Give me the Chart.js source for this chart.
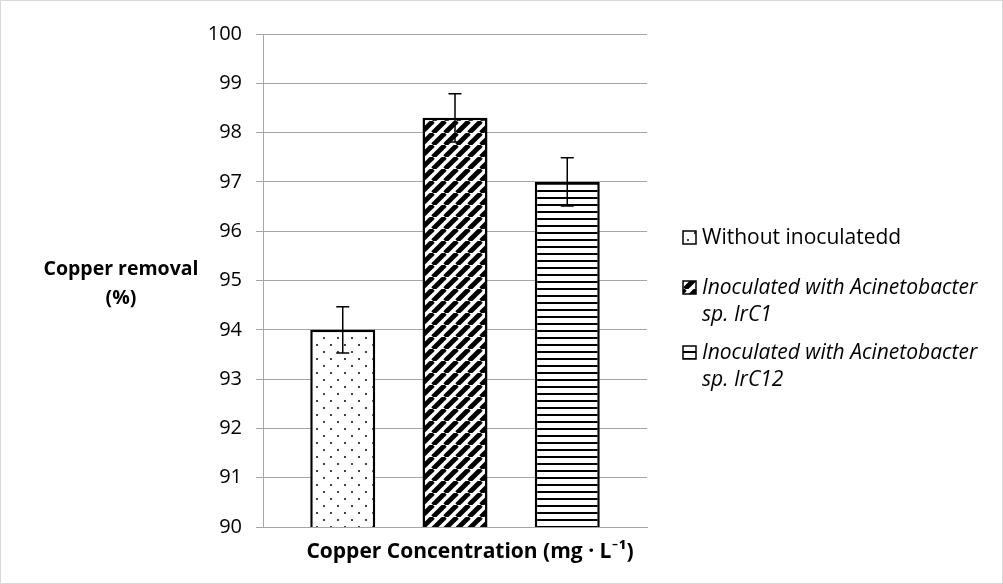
<!DOCTYPE html>
<html>
<head>
<meta charset="utf-8">
<script src="https://cdn.jsdelivr.net/npm/chart.js@4.4.1/dist/chart.umd.min.js"></script>
<style>
  html, body { margin: 0; padding: 0; background: #fff; }
  #wrap { width: 1001px; height: 582px; border: 1px solid #d9d9d9; }
</style>
</head>
<body>
<div id="wrap"><canvas id="chart"></canvas></div>
<script>
  const categories = [""];
  const seriesNames = [
    "Without inoculatedd",
    "Inoculated with Acinetobacter sp. IrC1",
    "Inoculated with Acinetobacter sp. IrC12"
  ];
  const seriesItalic = [false, true, true];
  const removal = [94.0, 98.3, 97.0];
  const removalErr = [0.47, 0.49, 0.49];
  const yTicks = [90, 91, 92, 93, 94, 95, 96, 97, 98, 99, 100];
  const yTitle = ["Copper removal", "(%)"];
  const xTitle = "Copper Concentration (mg \u00b7 L\u207b\u00b9)";

  const FONT = "'Open Sans', Lato, sans-serif";
  const GRID = "#a6a6a6";

  const canvas = document.getElementById("chart");
  const ctx = canvas.getContext("2d");

  function tile(w, h, draw) {
    const c = document.createElement("canvas");
    c.width = w; c.height = h;
    const g = c.getContext("2d");
    g.fillStyle = "#fff";
    g.fillRect(0, 0, w, h);
    draw(g, w, h);
    return ctx.createPattern(c, "repeat");
  }

  // dotted, diagonal and horizontal fills like the Excel patterns
  const fills = [
    tile(14, 14, g => {
      g.fillStyle = "#444";
      g.fillRect(0, 0, 2, 2);
      g.fillRect(7, 7, 2, 2);
    }),
    tile(12, 12, (g, s) => {
      g.strokeStyle = "#000";
      g.lineWidth = 4.8;
      for (let k = -1; k <= 1; k++) {
        g.beginPath();
        g.moveTo(k * s, s);
        g.lineTo(k * s + s, 0);
        g.stroke();
      }
    }),
    tile(8, 7, g => {
      g.fillStyle = "#000";
      g.fillRect(0, 0, 8, 2);
    })
  ];

  const errorBars = {
    id: "errorBars",
    afterDatasetsDraw(chart) {
      const c = chart.ctx;
      const y = chart.scales.y;
      c.save();
      c.strokeStyle = "#000";
      c.lineWidth = 1.5;
      chart.data.datasets.forEach((ds, i) => {
        chart.getDatasetMeta(i).data.forEach((bar, j) => {
          const v = ds.data[j];
          const e = removalErr[i];
          const top = y.getPixelForValue(v + e);
          const bot = y.getPixelForValue(v - e);
          c.beginPath();
          c.moveTo(bar.x, top); c.lineTo(bar.x, bot);
          c.moveTo(bar.x - 6.5, top); c.lineTo(bar.x + 6.5, top);
          c.moveTo(bar.x - 6.5, bot); c.lineTo(bar.x + 6.5, bot);
          c.stroke();
        });
      });
      c.restore();
    }
  };

  // axis titles kept horizontal, as in the Excel original
  const axisTitles = {
    id: "axisTitles",
    afterDraw(chart) {
      const c = chart.ctx;
      const a = chart.chartArea;
      const mid = (a.top + a.bottom) / 2 + 3;
      c.save();
      c.fillStyle = "#000";
      c.textAlign = "center";
      c.textBaseline = "middle";
      c.font = "bold 19.5px " + FONT;
      yTitle.forEach((t, i) => c.fillText(t, 120, mid - 14.5 + i * 29));
      c.font = "bold 21px " + FONT;
      c.fillText(xTitle, (a.left + a.right) / 2 + 15, a.bottom + 25);
      c.restore();
    }
  };

  const sideLegend = {
    id: "sideLegend",
    afterDraw(chart) {
      const c = chart.ctx;
      const boxX = chart.chartArea.right + 36;
      const textX = boxX + 19;
      const maxW = chart.width - textX - 5;
      const firstLine = [237, 287, 352];
      const lineH = 27;
      c.save();
      c.textBaseline = "middle";
      chart.data.datasets.forEach((ds, i) => {
        c.font = (seriesItalic[i] ? "italic " : "") + "21px " + FONT;
        const words = ds.label.split(" ");
        const lines = [];
        let cur = "";
        words.forEach(w => {
          const test = cur ? cur + " " + w : w;
          if (cur && c.measureText(test).width > maxW) { lines.push(cur); cur = w; }
          else cur = test;
        });
        lines.push(cur);
        const y0 = firstLine[i];
        c.fillStyle = ds.backgroundColor;
        c.fillRect(boxX, y0 - 7, 13, 13);
        c.strokeStyle = "#000";
        c.lineWidth = 1.5;
        c.strokeRect(boxX, y0 - 7, 13, 13);
        c.fillStyle = "#000";
        lines.forEach((t, k) => c.fillText(t, textX, y0 + k * lineH));
      });
      c.restore();
    }
  };

  new Chart(canvas, {
    type: "bar",
    data: {
      labels: categories,
      datasets: seriesNames.map((name, i) => ({
        label: name,
        data: [removal[i]],
        backgroundColor: fills[i],
        borderColor: "#000",
        borderWidth: 2.5,
        borderSkipped: false,
        categoryPercentage: 0.877,
        barPercentage: 0.579
      }))
    },
    options: {
      responsive: true,
      maintainAspectRatio: false,
      animation: false,
      layout: { padding: { left: 0, right: 355, top: 33, bottom: 0 } },
      plugins: { legend: { display: false }, tooltip: { enabled: false } },
      scales: {
        x: {
          grid: { display: false },
          border: { color: GRID, width: 1 },
          ticks: { display: false },
          afterFit: s => { s.height = 56; }
        },
        y: {
          min: yTicks[0],
          max: yTicks[yTicks.length - 1],
          ticks: {
            stepSize: yTicks[1] - yTicks[0],
            padding: 14,
            color: "#000",
            font: { family: FONT, size: 20 }
          },
          grid: { color: GRID, tickLength: 7 },
          border: { color: GRID, width: 1 },
          afterFit: s => { s.width = 262; }
        }
      }
    },
    plugins: [errorBars, axisTitles, sideLegend]
  });
</script>
</body>
</html>
